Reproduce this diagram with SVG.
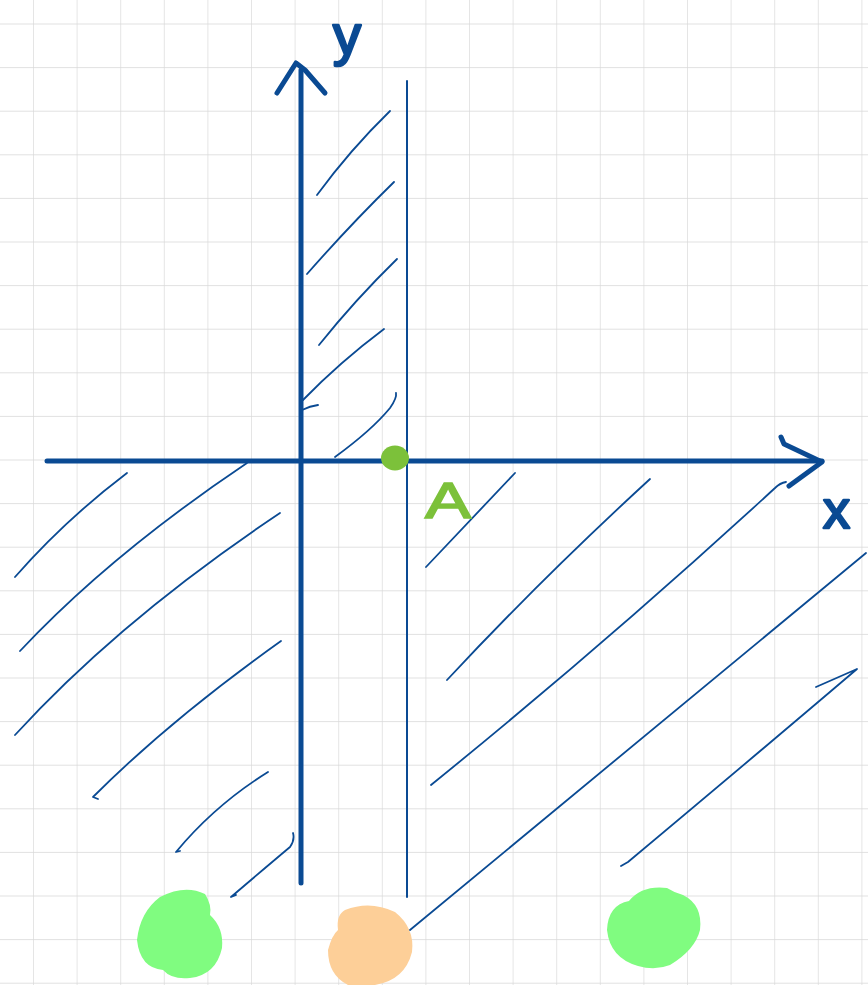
<svg xmlns="http://www.w3.org/2000/svg" width="868" height="985" viewBox="0 0 868 985">
<defs>
<pattern id="grid" patternUnits="userSpaceOnUse" x="33" y="23.5" width="43.6" height="43.6">
<path d="M0,0 H43.6 M0,0 V43.6" fill="none" stroke="#d8d8d8" stroke-width="1.3"/>
</pattern>
<style>
.axis{fill:none;stroke:#0a4a93;stroke-width:5;stroke-linecap:round;stroke-linejoin:round}
.thin{fill:none;stroke:#0a4a93;stroke-width:2;stroke-linecap:round}
.hatch{fill:none;stroke:#0a4a93;stroke-width:1.8;stroke-linecap:round;stroke-linejoin:round}
.lbl{font-family:"Liberation Sans","DejaVu Sans",sans-serif;fill:#0a4a93;stroke:#0a4a93;stroke-width:2.5;stroke-linejoin:round}
</style>
</defs>
<rect width="868" height="985" fill="#ffffff"/>
<rect width="868" height="985" fill="url(#grid)"/>

<g id="blobs">
<path d="M160,897 Q185,884 205,894 Q212,905 210,915 Q224,928 222,948 Q216,975 190,978 Q172,980 163,970 Q140,968 137,940 Q140,912 160,897 Z" fill="#80fc80"/>
<path d="M345,910 Q370,900 395,912 Q415,928 412,952 Q405,980 375,985 L348,985 Q328,975 328,950 Q332,935 338,930 Q336,915 345,910 Z" fill="#fdcf98"/>
<path d="M629,901 Q642,885 667,888 Q675,893 683,895 Q703,905 700,930 Q695,950 670,965 Q655,971 638,966 Q610,958 607,930 Q608,905 629,901 Z" fill="#80fc80"/>
</g>

<g id="hatching">
<path class="hatch" d="M317,195 Q350,150 390,111"/>
<path class="hatch" d="M307,274 Q350,225 394,182"/>
<path class="hatch" d="M319,345 Q355,300 397,259"/>
<path class="hatch" d="M303,400 Q340,362 384,329"/>
<path class="hatch" d="M302,410 Q310,406 318,405"/>
<path class="hatch" d="M335,457 Q372,430 390,408 Q397,398 396,393"/>
<path class="hatch" d="M15,577 Q65,520 127,473"/>
<path class="hatch" d="M20,651 Q110,555 247,463"/>
<path class="hatch" d="M15,735 Q120,620 280,513"/>
<path class="hatch" d="M98,799 L93,797 Q170,720 281,641"/>
<path class="hatch" d="M180,851 L176,852 Q215,805 268,772"/>
<path class="hatch" d="M236,895 L231,897 Q265,868 290,847 Q295,840 293,833"/>
<path class="hatch" d="M426,567 Q475,515 515,473"/>
<path class="hatch" d="M447,680 Q540,580 650,479"/>
<path class="hatch" d="M431,785 Q610,640 775,488 Q780,483 786,482"/>
<path class="hatch" d="M410,930 Q640,740 866,553"/>
<path class="hatch" d="M816,687 L857,669 Q750,760 628,862 L621,866"/>
</g>

<g id="axes">
<path class="thin" d="M407,81 V897"/>
<path class="axis" d="M301,70 V883"/>
<path class="axis" d="M277,93 L296,63 L305,70 L325,93"/>
<path class="axis" d="M47,461 H822"/>
<path class="axis" d="M781,437 L784,444 L822,462 L789,486"/>
</g>

<g id="point-A">
<ellipse cx="395" cy="458" rx="14" ry="12.5" fill="#7cc13a"/>
<text x="425" y="518" font-family="Liberation Sans, DejaVu Sans, sans-serif" font-size="50" fill="#7cc13a" stroke="#7cc13a" stroke-width="1.5" textLength="46" lengthAdjust="spacingAndGlyphs">A</text>
</g>

<g id="labels">
<text class="lbl" x="333" y="54" font-size="56">y</text>
<text class="lbl" x="823" y="528" font-size="54">x</text>
</g>
</svg>
